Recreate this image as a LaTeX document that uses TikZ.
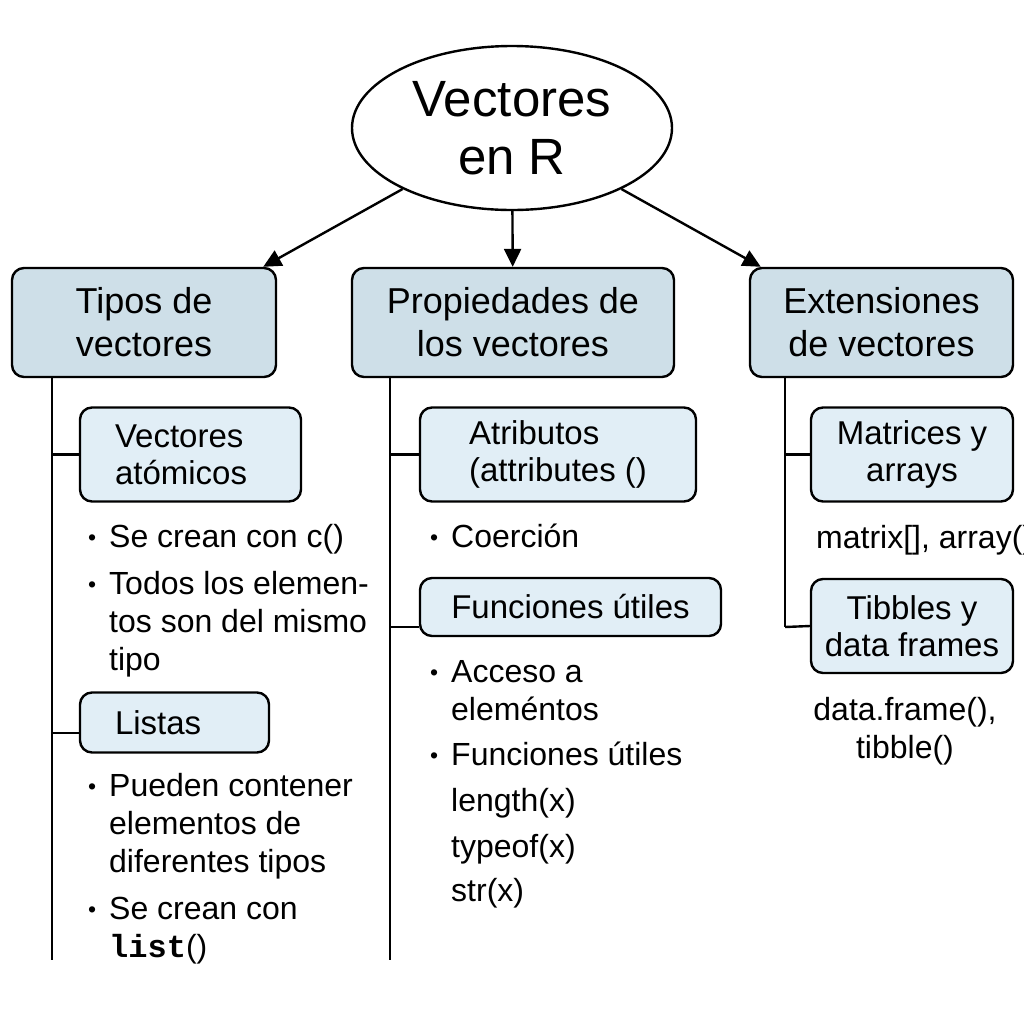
\documentclass[tikz,border=0pt]{standalone}
\usepackage{fontspec}
\setmainfont{Liberation Sans}
\setmonofont{Liberation Mono}
\usetikzlibrary{positioning,arrows.meta,shapes.geometric}
\definecolor{topfill}{RGB}{206,223,232}
\definecolor{subfill}{RGB}{225,238,246}
\tikzset{
tree/.style={x=0.5pt,y=-0.5pt,line width=1.2pt,>={Triangle[length=9pt,width=8.5pt]}},
root/.style={ellipse,draw,fill=white,minimum width=160pt,minimum height=82pt,inner sep=0pt,
align=center,font=\fontsize{25.5}{29}\selectfont},
topbox/.style={rectangle,draw,rounded corners=6pt,fill=topfill,minimum height=54.5pt,
align=center,font=\fontsize{18}{21.5}\selectfont},
subbox/.style={rectangle,draw,rounded corners=6pt,fill=subfill,
align=center,font=\fontsize{16.5}{18.5}\selectfont},
subleft/.style={subbox,align=left,inner xsep=17.5pt},
notes/.style={anchor=base west,inner sep=0pt,font=\fontsize{16}{19}\selectfont},
midnotes/.style={notes,anchor=base}
}
\newcommand{\bl}{\llap{\raisebox{0.6pt}{\fontsize{11.5}{11.5}\selectfont\textbullet}\hspace{6.5pt}}}
\newcommand{\rows}[1]{\begin{tabular}[t]{@{}l@{}}#1\end{tabular}}
\newcommand{\crows}[1]{\begin{tabular}[t]{@{}c@{}}#1\end{tabular}}

\begin{document}
\begin{tikzpicture}[tree]
\useasboundingbox (0,0) rectangle (1024,1024);

\node[root] (root) at (512,128) {Vectores\\en R};

\node[topbox,minimum width=132pt] (tipos) at (144,322.5) {Tipos de\\vectores};
\node[topbox,minimum width=161pt] (prop) at (513,322.5) {Propiedades de\\los vectores};
\node[topbox,minimum width=131.5pt] (ext) at (881.5,322.5) {Extensiones\\de vectores};

\path[->] (root) edge ([xshift=-7pt]tipos.north east);
\path[->] (root) edge (prop);
\path[->] (root) edge ([xshift=6pt]ext.north west);

% tipos de vectores
\node[subleft,text width=75.5pt,minimum height=47pt] (atom) at (190.5,454.5) {Vectores\\atómicos};
\node[notes] (atom-notes) at (108,547)
  {\rows{\bl Se crean con c()\\[4.5pt] \bl Todos los elemen-\\tos son del mismo\\tipo}};
\node[subleft,text width=59.5pt,minimum height=30pt] (listas) at (174.5,722.5) {Listas};
\node[notes] (listas-notes) at (108,796)
  {\rows{\bl Pueden contener\\elementos de\\diferentes tipos\\[4.5pt] \bl Se crean con\\\textbf{\ttfamily list}()}};

% propiedades
\node[subbox,align=left,minimum width=138pt,minimum height=47pt] (attr) at (558,454.5) {Atributos\\(attributes ()};
\node[notes] (attr-notes) at (450,547) {\rows{\bl Coerción}};
\node[subbox,minimum width=150.5pt,minimum height=29pt] (funcs) at (570.5,607) {Funciones útiles};
\node[notes] (funcs-notes) at (450,682)
  {\rows{\bl Acceso a\\eleméntos\\[3.5pt] \bl Funciones útiles\\[4pt] length(x)\\[4pt] typeof(x)\\[3pt] str(x)}};

% extensiones
\node[subbox,minimum width=101pt,minimum height=47pt] (matr) at (912,454.5) {Matrices y\\arrays};
\node[notes] (matr-notes) at (815,548) {matrix[], array()};
\node[subbox,minimum width=101pt,minimum height=47pt] (tibb) at (912,626) {Tibbles y\\data frames};
\node[midnotes] (tibb-notes) at (905,720) {\crows{data.frame(),\\tibble()}};

\coordinate (tipos-end) at (52,960);
\coordinate (prop-end) at (390,960);
\coordinate (ext-end) at (785,627);

\draw (tipos.south -| tipos-end) -- (tipos-end);
\draw (prop.south -| prop-end) -- (prop-end);
\draw (ext.south -| ext-end) -- (ext-end);

\draw (atom.west -| tipos-end) -- (atom.west);
\draw (listas.west) ++(0,10.5) coordinate (listas-b) -- (listas-b -| tipos-end);
\draw (attr.west -| prop-end) -- (attr.west);
\draw (funcs.west) ++(0,20) coordinate (funcs-b) -- (funcs-b -| prop-end);
\draw (matr.west -| ext-end) -- (matr.west);
\draw (tibb.west) -- (ext-end);

\end{tikzpicture}
\end{document}
